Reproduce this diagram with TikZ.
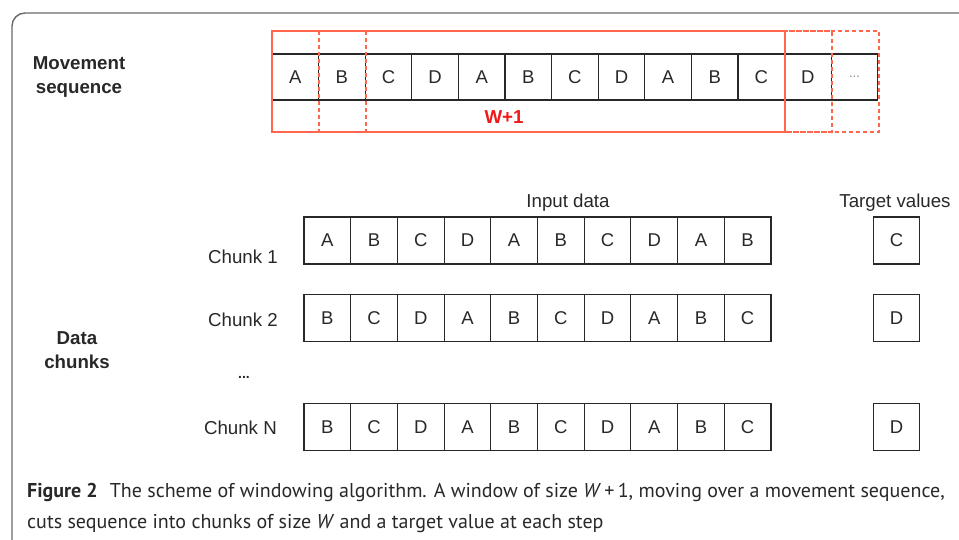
\documentclass[tikz,border=0pt]{standalone}
\usepackage{fontspec}
\setmainfont{Liberation Sans}
\newfontfamily\capfont{PT Sans}
\definecolor{winred}{RGB}{255,102,76}
\definecolor{labred}{RGB}{240,24,24}
\definecolor{framegray}{RGB}{105,105,105}
\definecolor{ink}{RGB}{40,40,40}
\begin{document}
\begin{tikzpicture}[x=1pt,y=-1pt,
  seqcell/.style={draw=ink, line width=1.1pt, minimum width=46.6pt, minimum height=46pt,
    inner sep=0pt, text=ink, font=\fontsize{18.5}{20}\selectfont},
  chunkcell/.style={draw=ink, line width=1.1pt, minimum width=46.7pt, minimum height=47pt,
    inner sep=0pt, text=ink, font=\fontsize{18.5}{20}\selectfont},
  window/.style={draw=winred, line width=1.4pt, inner sep=0pt, minimum height=101pt},
  winshift/.style={window, dash pattern=on 4pt off 3pt},
  boldlab/.style={font=\bfseries\fontsize{18.7}{24}\selectfont, text=ink, align=center, inner sep=0pt},
  lab/.style={font=\fontsize{18.7}{20}\selectfont, text=ink, inner sep=0pt},
  captext/.style={font=\capfont\fontsize{20}{21}\selectfont, text=ink, inner sep=0pt, anchor=base west}
]
\useasboundingbox (0,0) rectangle (959,540);
\begin{scope}
  \clip (0,0) rectangle (959,540);
  \draw[framegray, line width=1.4pt, rounded corners=13pt] (12,13) rectangle (1000,600);
\end{scope}

% movement sequence
\node[boldlab] (movlab) at (79,77) {Movement\\sequence};
\foreach \l [count=\i] in {A,B,C,D,A,B,C,D,A,B,C,D}
  \node[seqcell] (s\i) at ({272+46.6*(\i-0.5)},77) {\l};
\node[seqcell, font=\fontsize{13}{14}\selectfont, text=black!50] (s13) at ({272+46.6*12.5},77) {...};

% windows
\node[winshift, minimum width=513pt] (w2) at ({366+256.5},81.5) {};
\node[winshift, minimum width=513pt] (w1) at ({319+256.5},81.5) {};
\node[window, minimum width=513pt] (w0) at ({272+256.5},81.5) {};
\node[font=\bfseries\fontsize{18.7}{20}\selectfont, text=labred, inner sep=0pt] (wlab) at (504,117) {W+1};

% chunks
\node[lab] (inlab) at (568,203) {Input data};
\node[lab] (tglab) at (895,203) {Target values};
\node[boldlab] (datalab) at (77,350) {Data\\chunks};

\node[lab, anchor=east] (ch1) at (278,257) {Chunk 1};
\foreach \l [count=\i] in {A,B,C,D,A,B,C,D,A,B}
  \node[chunkcell] (a\i) at ({304+46.7*(\i-0.5)},240.5) {\l};
\node[chunkcell] (ta) at (896.5,240.5) {C};

\node[lab, anchor=east] (ch2) at (278,320) {Chunk 2};
\foreach \l [count=\i] in {B,C,D,A,B,C,D,A,B,C}
  \node[chunkcell] (b\i) at ({304+46.7*(\i-0.5)},318) {\l};
\node[chunkcell] (tb) at (896.5,318) {D};

\node[font=\bfseries\fontsize{14}{14}\selectfont, text=ink, inner sep=0pt] (dots) at (244,377) {...};

\node[lab, anchor=east] (chn) at (277,428) {Chunk N};
\foreach \l [count=\i] in {B,C,D,A,B,C,D,A,B,C}
  \node[chunkcell] (n\i) at ({304+46.7*(\i-0.5)},427) {\l};
\node[chunkcell] (tn) at (896.5,427) {D};

% caption
\node[captext] (cap1) at (27,497) {\textbf{Figure 2}\hspace{12pt}The scheme of windowing algorithm. A window of size \textit{W}\,+\,1, moving over a movement sequence,};
\node[captext] (cap2) at (27,528) {cuts sequence into chunks of size \textit{W} and a target value at each step};
\end{tikzpicture}
\end{document}
